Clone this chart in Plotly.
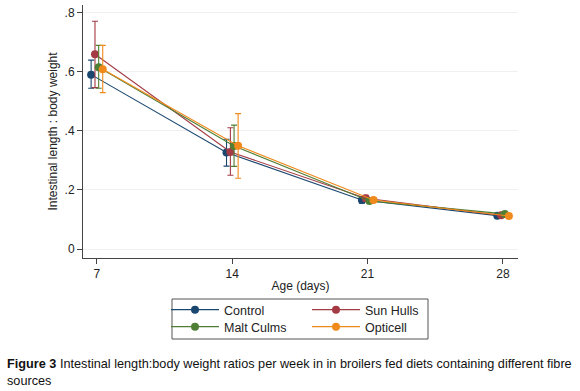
import plotly.graph_objects as go

# ---- data ----
days = [7, 14, 21, 28]
series_names = ["Control", "Sun Hulls", "Malt Culms", "Opticell"]

control = [0.591, 0.327, 0.166, 0.113]
control_lo = [0.545, 0.281, 0.155, 0.108]
control_hi = [0.640, 0.372, 0.177, 0.118]

sun_hulls = [0.660, 0.329, 0.172, 0.114]
sun_hulls_lo = [0.547, 0.250, 0.162, 0.109]
sun_hulls_hi = [0.772, 0.411, 0.182, 0.119]

malt_culms = [0.616, 0.349, 0.163, 0.119]
malt_culms_lo = [0.545, 0.280, 0.155, 0.114]
malt_culms_hi = [0.690, 0.420, 0.171, 0.124]

opticell = [0.609, 0.350, 0.166, 0.112]
opticell_lo = [0.530, 0.240, 0.158, 0.107]
opticell_hi = [0.690, 0.459, 0.174, 0.117]

y_tickvals = [0, 0.2, 0.4, 0.6, 0.8]
y_ticktext = ["0", ".2", ".4", ".6", ".8"]
x_tickvals = [7, 14, 21, 28]

# ---- styling ----
colors = ["#1a476f", "#a33a44", "#4f7f35", "#f08a1c"]
dodge = [-0.29, -0.09, 0.1, 0.31]
legend_ids = ["legend", "legend", "legend2", "legend2"]
FONT = "Liberation Sans, Arial, sans-serif"

means = [control, sun_hulls, malt_culms, opticell]
lows = [control_lo, sun_hulls_lo, malt_culms_lo, opticell_lo]
highs = [control_hi, sun_hulls_hi, malt_culms_hi, opticell_hi]

fig = go.Figure()
for name, m, lo, hi, c, d, lg in zip(series_names, means, lows, highs, colors, dodge, legend_ids):
    xs = [day + d for day in days]
    fig.add_trace(go.Scatter(
        x=xs, y=m, name=name, mode="lines+markers",
        line=dict(color=c, width=1.1),
        marker=dict(color=c, size=8),
        error_y=dict(type="data", symmetric=False,
                     array=[h - v for h, v in zip(hi, m)],
                     arrayminus=[v - l for v, l in zip(m, lo)],
                     color=c, thickness=1.1, width=3),
        legend=lg,
    ))

W, H = 580, 391
L, R, T, B = 83, 62, 5, 133
pw, ph = W - L - R, H - T - B

def px_x(page_x):
    return (page_x - L) / pw

def px_y(page_y):
    return (H - B - page_y) / ph

legend_common = dict(orientation="h", x=px_x(166), xanchor="left", yanchor="middle",
                     entrywidth=78, entrywidthmode="pixels",
                     font=dict(size=12.5, color="#222"),
                     bgcolor="rgba(0,0,0,0)", borderwidth=0, itemwidth=48)

fig.update_layout(
    width=W, height=H,
    margin=dict(l=L, r=R, t=T, b=B, autoexpand=False),
    paper_bgcolor="white", plot_bgcolor="white",
    font=dict(family=FONT, size=12, color="#222"),
    showlegend=True,
    legend=dict(**legend_common, y=px_y(310)),
    legend2=dict(**legend_common, y=px_y(327)),
    xaxis=dict(range=[6.29, 28.78], tickvals=x_tickvals, ticks="outside", ticklen=5,
               tickcolor="#444", showline=True, linecolor="#444", linewidth=1,
               showgrid=False, zeroline=False, tickfont=dict(size=12, color="#222"),
               title=dict(text="Age (days)", font=dict(size=12, color="#222"), standoff=1)),
    yaxis=dict(range=[-0.0305, 0.827], tickvals=y_tickvals, ticktext=y_ticktext,
               ticks="outside", ticklen=5, tickcolor="#444", showline=True,
               linecolor="#444", linewidth=1, showgrid=True, gridcolor="#f0f0f0",
               gridwidth=1, zeroline=False, tickfont=dict(size=12, color="#222"),
               ticklabeloverflow="allow",
               title=dict(text="Intestinal length : body weight",
                          font=dict(size=12, color="#222"), standoff=4)),
    shapes=[dict(type="rect", xref="paper", yref="paper",
                 x0=px_x(172), x1=px_x(428), y0=px_y(299), y1=px_y(339),
                 line=dict(color="#555", width=1), fillcolor="rgba(0,0,0,0)")],
    annotations=[dict(
        text="<b>Figure 3</b> Intestinal length:body weight ratios per week in in broilers fed diets containing different fibre<br>sources",
        xref="paper", yref="paper", x=px_x(5), y=px_y(355), xanchor="left", yanchor="top",
        align="left", showarrow=False, font=dict(family=FONT, size=12.7, color="#111"))],
)

# remove the browser's default 8px body margin so the figure sits at the page origin
fig.write_html("out.html",
               config={"displayModeBar": False},
               post_script="document.body.style.margin='0';document.body.style.overflow='hidden';")
